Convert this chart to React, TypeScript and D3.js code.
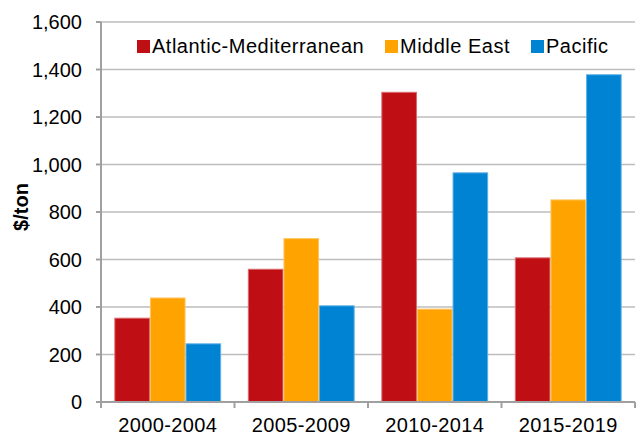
import React from "react";
import * as d3 from "d3";

const categories = ["2000-2004", "2005-2009", "2010-2014", "2015-2019"];
const seriesNames = ["Atlantic-Mediterranean", "Middle East", "Pacific"];
const atlanticMed = [355, 561, 1306, 609];
const middleEast = [440, 690, 393, 853];
const pacific = [247, 407, 967, 1380];
const yTicks = [0, 200, 400, 600, 800, 1000, 1200, 1400, 1600];
const colors = ["#C00F14", "#FFA300", "#0083D3"];
const strokeColors = ["#D9696D", "#FFC460", "#5FB0E3"];

const W = 636;
const H = 437;
const left = 101;
const right = 635;
const top = 22;
const bottom = 402;

export default function App() {
  const series = [atlanticMed, middleEast, pacific];
  const x = d3.scaleBand<string>().domain(categories).range([left, right]).paddingInner(0).paddingOuter(0);
  const inner = d3.scaleBand<number>().domain([0, 1, 2]).range([0, x.bandwidth()]).paddingInner(0).paddingOuter(0.375);
  const y = d3.scaleLinear().domain([0, 1600]).range([bottom, top]);
  const font = "'Liberation Sans', Arial, sans-serif";
  const legendX = [137, 385, 531];
  const boundaries = [left, ...categories.map((c) => (x(c) as number) + x.bandwidth())];

  return (
    <svg width={W} height={H} style={{ position: "absolute", left: 0, top: 0, background: "#fff" }} fontFamily={font}>
      {yTicks.map((t) => (
        <g key={t}>
          {t > 0 && <line x1={left} x2={right} y1={y(t)} y2={y(t)} stroke="#BDBDBD" strokeWidth={1.6} />}
          <line x1={left - 5} x2={left} y1={y(t)} y2={y(t)} stroke="#A0A0A0" strokeWidth={2} />
          <text x={82} y={y(t)} dy="0.36em" textAnchor="end" fontSize={20} fill="#000">
            {d3.format(",")(t)}
          </text>
        </g>
      ))}
      {categories.map((c, ci) =>
        series.map((s, si) => (
          <rect
            key={c + si}
            x={(x(c) as number) + (inner(si) as number) + 0.5}
            y={y(s[ci]) + 0.5}
            width={inner.bandwidth() - 1}
            height={bottom - y(s[ci]) - 0.5}
            fill={colors[si]}
            stroke={strokeColors[si]}
            strokeWidth={1}
          />
        ))
      )}
      <line x1={left} x2={left} y1={top} y2={bottom + 1} stroke="#A0A0A0" strokeWidth={2} />
      <line x1={left - 5} x2={right} y1={bottom} y2={bottom} stroke="#A0A0A0" strokeWidth={2} />
      {boundaries.map((b, i) => (
        <line key={i} x1={b} x2={b} y1={bottom} y2={bottom + 6} stroke="#A0A0A0" strokeWidth={2} />
      ))}
      {categories.map((c) => (
        <text key={c} x={(x(c) as number) + x.bandwidth() / 2} y={432} textAnchor="middle" fontSize={20} letterSpacing={0.4} fill="#000">
          {c}
        </text>
      ))}
      <text transform={`translate(28,207) rotate(-90)`} textAnchor="middle" fontSize={20} fontWeight="bold" fill="#000">
        $/ton
      </text>
      {seriesNames.map((n, i) => (
        <g key={n}>
          <rect x={legendX[i]} y={40} width={13} height={13} fill={colors[i]} />
          <text x={legendX[i] + 15} y={53} fontSize={20} letterSpacing={0.5} fill="#000">
            {n}
          </text>
        </g>
      ))}
    </svg>
  );
}
